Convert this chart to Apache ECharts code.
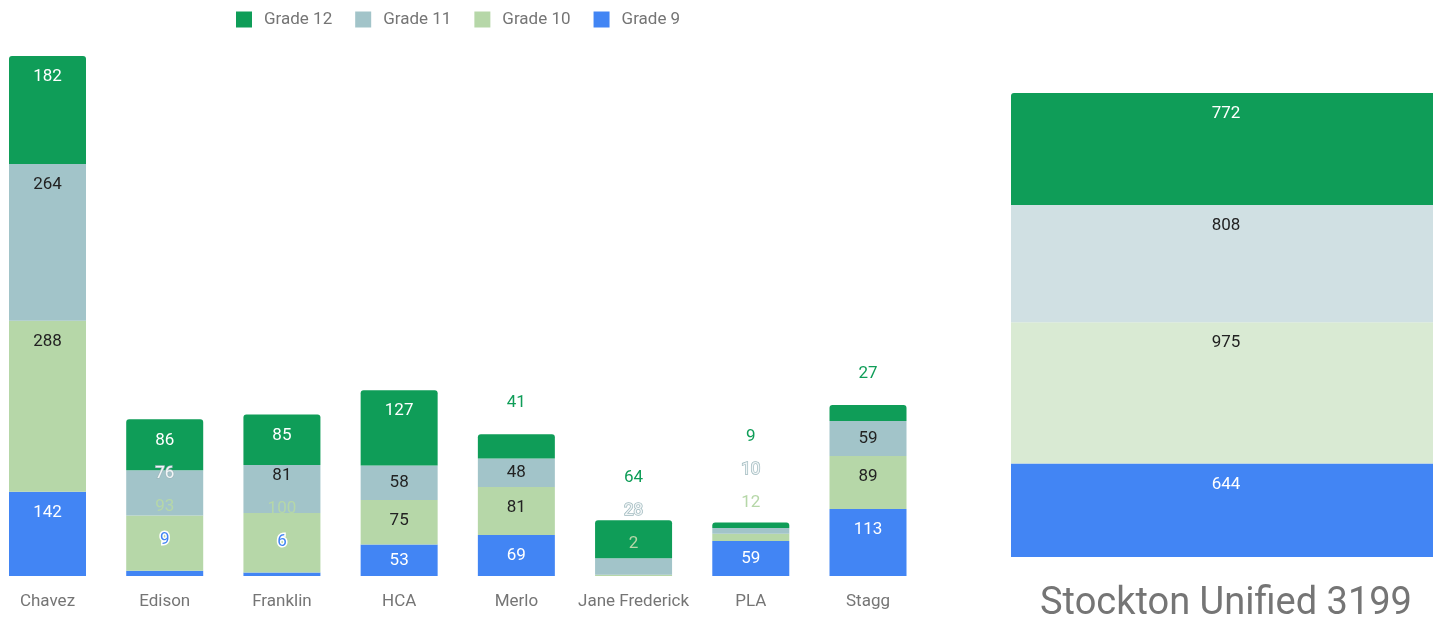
<!DOCTYPE html>
<html>
<head>
<meta charset="utf-8">
<script src="https://cdn.jsdelivr.net/npm/echarts@6/dist/echarts.min.js"></script>
<style>
html, body { margin: 0; padding: 0; background: #fff; }
#chart { width: 1433px; height: 617px; }
</style>
</head>
<body>
<div id="chart"></div>
<script>
// data per school, bottom of the stack first
const schools = ["Chavez", "Edison", "Franklin", "HCA", "Merlo", "Jane Frederick", "PLA", "Stagg"];
const grade9 = [142, 9, 6, 53, 69, 0, 59, 113];
const grade10 = [288, 93, 100, 75, 81, 2, 12, 89];
const grade11 = [264, 76, 81, 58, 48, 28, 10, 59];
const grade12 = [182, 86, 85, 127, 41, 64, 9, 27];

// district totals: grade 9, 10, 11, 12
const districtLabel = "Stockton Unified 3199";
const districtValues = [644, 975, 808, 772];

const gradeNames = ["Grade 9", "Grade 10", "Grade 11", "Grade 12"];
const colors = ["#4285f4", "#b6d7a8", "#a2c4c9", "#0f9d58"];
const lightColors = ["#4285f4", "#d9ead3", "#d0e0e3", "#0f9d58"];
const textIn = ["#fff", "#222", "#222", "#fff"];
// label look when it sits outside its own segment
const textOut = [
  { color: "#4285f4", textBorderColor: "#fff", textBorderWidth: 3 },
  { color: "#b6d7a8" },
  { color: "#f2f6f7", textBorderColor: "#9fb9be", textBorderWidth: 1.5 },
  { color: "#0f9d58", textBorderColor: "#fff", textBorderWidth: 3 }
];

const schoolData = [grade9, grade10, grade11, grade12];
const totals = schools.map((s, i) => schoolData.reduce((a, g) => a + g[i], 0));
const districtTotal = districtValues.reduce((a, b) => a + b, 0);

function topIndex(i) {
  let t = -1;
  schoolData.forEach((g, k) => { if (g[i] > 0) t = k; });
  return t;
}

function buildSeries(labels) {
  const series = [];
  schoolData.forEach((vals, k) => {
    series.push({
      name: gradeNames[k],
      type: "bar",
      stack: "school",
      xAxisIndex: 0,
      yAxisIndex: 0,
      barWidth: 77,
      itemStyle: { color: colors[k] },
      data: vals.map((v, i) => {
        const item = { value: v };
        if (topIndex(i) === k) item.itemStyle = { borderRadius: [3, 3, 0, 0] };
        if (labels && labels[k][i]) item.label = labels[k][i];
        else item.label = { show: false };
        return item;
      })
    });
  });
  districtValues.forEach((v, k) => {
    series.push({
      name: gradeNames[k],
      type: "bar",
      stack: "district",
      xAxisIndex: 1,
      yAxisIndex: 1,
      barWidth: "100%",
      itemStyle: { color: lightColors[k], borderRadius: k === 3 ? [3, 3, 0, 0] : 0 },
      label: {
        show: true,
        position: ["50%", 21],
        align: "center",
        verticalAlign: "middle",
        color: textIn[k],
        fontFamily: "Roboto",
        fontSize: 17
      },
      data: [v]
    });
  });
  return series;
}

const chart = echarts.init(document.getElementById("chart"));
const option = {
  animation: false,
  textStyle: { fontFamily: "Roboto" },
  legend: {
    data: ["Grade 12", "Grade 11", "Grade 10", "Grade 9"],
    left: 231,
    top: 6,
    itemWidth: 16,
    itemHeight: 16,
    itemGap: 23,
    icon: "rect",
    textStyle: { color: "#757575", fontSize: 17, fontFamily: "Roboto", padding: [0, 0, 0, 7] }
  },
  grid: [
    { left: 47.5, top: 56, width: 820.5, height: 520, outerBoundsMode: "none" },
    { left: 1011, top: 93, width: 430, height: 464, outerBoundsMode: "none" }
  ],
  xAxis: [
    {
      type: "category",
      gridIndex: 0,
      data: schools,
      boundaryGap: false,
      axisLine: { show: false },
      axisTick: { show: false },
      axisLabel: { interval: 0, color: "#757575", fontSize: 17, fontFamily: "Roboto", margin: 17 }
    },
    {
      type: "category",
      gridIndex: 1,
      data: [districtLabel],
      axisLine: { show: false },
      axisTick: { show: false },
      axisLabel: { color: "#757575", fontSize: 38, fontFamily: "Roboto", margin: 28 }
    }
  ],
  yAxis: [
    { type: "value", gridIndex: 0, min: 0, max: Math.max(...totals), show: false, splitLine: { show: false } },
    { type: "value", gridIndex: 1, min: 0, max: districtTotal, show: false, splitLine: { show: false } }
  ],
  series: buildSeries(null)
};
chart.setOption(option);

// place value labels like the original: near segment top, pushed upward when crowded
const labels = schoolData.map(() => []);
schools.forEach((s, i) => {
  let cum = 0;
  let prev = Infinity;
  schoolData.forEach((vals, k) => {
    const v = vals[i];
    if (v <= 0) return;
    const bottom = chart.convertToPixel({ gridIndex: 0 }, [i, cum])[1];
    const top = chart.convertToPixel({ gridIndex: 0 }, [i, cum + v])[1];
    cum += v;
    const h = bottom - top;
    const center = (top + bottom) / 2;
    const fits = h >= 28;
    const desired = fits ? Math.min(top + 21, center) : top - 31;
    const y = Math.min(desired, prev - 33);
    prev = y;
    const inside = y - 8 >= top && y + 8 <= bottom;
    const lab = Object.assign({
      show: true,
      position: ["50%", y - top],
      align: "center",
      verticalAlign: "middle",
      fontFamily: "Roboto",
      fontSize: 17
    }, inside ? { color: textIn[k] } : textOut[k]);
    labels[k][i] = lab;
  });
});
chart.setOption({ series: buildSeries(labels) });
</script>
</body>
</html>
